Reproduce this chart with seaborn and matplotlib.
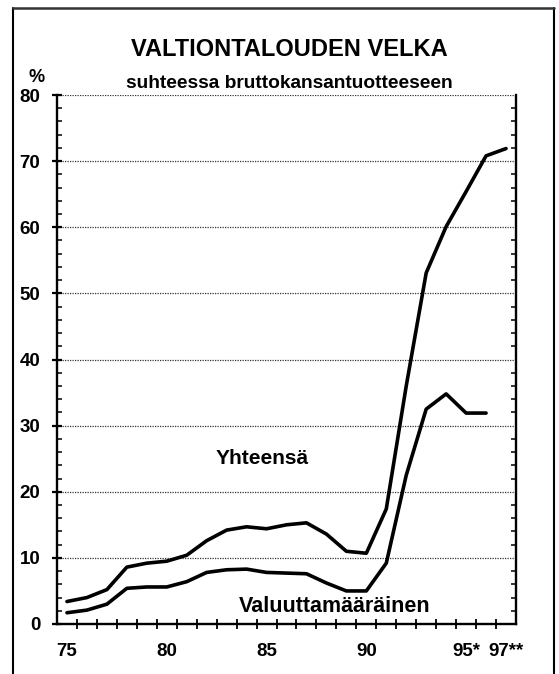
import numpy as np
import pandas as pd
import matplotlib
matplotlib.use("Agg")
import matplotlib.pyplot as plt
import seaborn as sns
from matplotlib.ticker import MultipleLocator, FixedLocator
from matplotlib.lines import Line2D

# Data (% of GDP)
years_total = list(range(75, 98))
yhteensa = [3.4, 4.0, 5.2, 8.6, 9.2, 9.5, 10.4, 12.6, 14.2, 14.7, 14.4, 15.0,
            15.3, 13.6, 11.0, 10.7, 17.4, 36.0, 53.1, 60.1, 65.4, 70.8, 71.9]
years_fx = list(range(75, 97))
valuutta = [1.7, 2.1, 3.0, 5.4, 5.6, 5.6, 6.4, 7.8, 8.2, 8.3, 7.8, 7.7,
            7.6, 6.2, 5.0, 5.0, 9.2, 22.5, 32.5, 34.8, 31.9, 31.9]
tick_years = [75, 80, 85, 90, 95, 97]
tick_labels = ["75", "80", "85", "90", "95*", "97**"]

df_total = pd.DataFrame({"vuosi": years_total, "osuus": yhteensa})
df_fx = pd.DataFrame({"vuosi": years_fx, "osuus": valuutta})

sns.set_style("white")
plt.rcParams["font.family"] = ["Liberation Sans", "DejaVu Sans"]
plt.rcParams["font.weight"] = "bold"
plt.rcParams["text.color"] = "black"
plt.rcParams["xtick.color"] = "black"
plt.rcParams["ytick.color"] = "black"
plt.rcParams["xtick.labelcolor"] = "black"
plt.rcParams["ytick.labelcolor"] = "black"

W, H = 559, 674
fig = plt.figure(figsize=(W / 100, H / 100), dpi=100)
ax = fig.add_axes([57 / W, (H - 624) / H, (516 - 57) / W, (624 - 95) / H])

sns.lineplot(data=df_total, x="vuosi", y="osuus", ax=ax, color="black", lw=2.6)
sns.lineplot(data=df_fx, x="vuosi", y="osuus", ax=ax, color="black", lw=2.6)

ax.set_xlim(74.5, 97.5)
ax.set_ylim(0, 80)
ax.set_xlabel("")
ax.set_ylabel("")

# spines
for s in ["left", "bottom", "right"]:
    ax.spines[s].set_visible(True)
    ax.spines[s].set_color("black")
    ax.spines[s].set_linewidth(1.7)
ax.spines["top"].set_visible(False)

# x ticks: labels at years, tick marks at year boundaries
ax.xaxis.set_major_locator(FixedLocator(tick_years))
ax.set_xticklabels(tick_labels)
ax.xaxis.set_minor_locator(FixedLocator(np.arange(75.5, 97, 1.0)))
ax.tick_params(axis="x", which="major", length=0, pad=13.5, labelsize=13.5,
               labelcolor="black")
ax.tick_params(axis="x", which="minor", bottom=True, direction="inout",
               length=7, width=1.3, color="black")

# y ticks
ax.yaxis.set_major_locator(MultipleLocator(10))
ax.yaxis.set_minor_locator(MultipleLocator(2))
ax.tick_params(axis="y", which="major", left=True, direction="inout",
               length=7, width=1.6, pad=8.5, labelsize=13.5, color="black",
               labelcolor="black")
ax.tick_params(axis="y", which="minor", left=True, right=True,
               direction="in", length=3.5, width=1.1, color="black")

ax.grid(axis="y", which="major", linestyle=(0, (1, 1)), color="#333333", lw=0.9)
ax.grid(axis="x", visible=False)

for lab in ax.get_xticklabels() + ax.get_yticklabels():
    lab.set_fontweight("bold")

# series labels
ax.text(84.8, 25.0, "Yhteensä", ha="center", va="center",
        fontsize=15, fontweight="bold", color="black")
ax.text(88.4, 2.7, "Valuuttamääräinen", ha="center", va="center",
        fontsize=15.5, fontweight="bold", color="black")

# titles
fig.text(289 / W, 1 - 50 / H, "VALTIONTALOUDEN VELKA", ha="center", va="center",
         fontsize=17, fontweight="bold", color="black")
fig.text(289 / W, 1 - 84 / H, "suhteessa bruttokansantuotteeseen", ha="center",
         va="center", fontsize=13.8, fontweight="bold", color="black")
fig.text(37 / W, 1 - 77 / H, "%", ha="center", va="center",
         fontsize=13, fontweight="bold", color="black")

# outer frame
fig.add_artist(Line2D([13 / W, 13 / W], [0, 1 - 8 / H], transform=fig.transFigure,
                      color="black", lw=1.5))
fig.add_artist(Line2D([554 / W, 554 / W], [0, 1 - 8 / H], transform=fig.transFigure,
                      color="black", lw=1.5))
fig.add_artist(Line2D([13 / W, 554 / W], [1 - 8 / H, 1 - 8 / H], transform=fig.transFigure,
                      color="#333333", lw=1.8))

fig.savefig("out.png", dpi=100)
